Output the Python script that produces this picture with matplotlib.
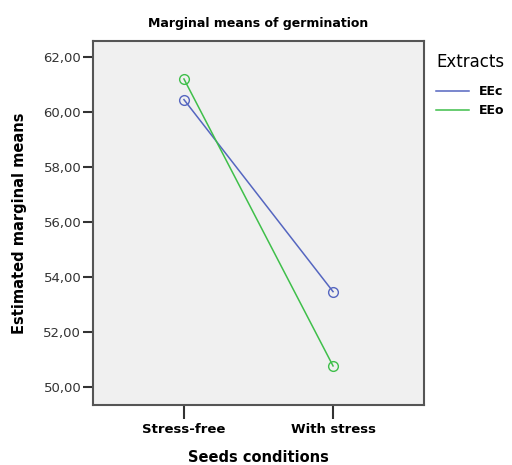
import matplotlib.pyplot as plt

conditions = ['Stress-free', 'With stress']
eec = [60.45, 53.47]
eeo = [61.2, 50.77]
yticks = [50, 52, 54, 56, 58, 60, 62]

fig = plt.figure(figsize=(5.12, 4.65), dpi=100)
ax = fig.add_axes([93/512, 60/465, 331/512, 364/465])
ax.set_facecolor('#f0f0f0')

x = range(len(conditions))
ax.plot(x, eec, color='#5566c0', lw=1.1, marker='o', ms=7, mfc='none', mec='#5566c0', label='EEc')
ax.plot(x, eeo, color='#3fbf4a', lw=1.1, marker='o', ms=7, mfc='none', mec='#3fbf4a', label='EEo')

ax.set_xlim(-0.61, 1.61)
ax.set_ylim(49.35, 62.58)
ax.set_xticks(list(x))
ax.set_xticklabels(conditions, fontsize=9.5, fontweight='bold')
ax.set_yticks(yticks)
ax.set_yticklabels([('%.2f' % v).replace('.', ',') for v in yticks], fontsize=9.5, color='#333333')
ax.tick_params(axis='y', length=7.5, width=1.5, color='#333333', pad=1)
ax.tick_params(axis='x', length=10, width=1.5, color='#333333', pad=3)
for s in ax.spines.values():
    s.set_color('#555555')
    s.set_linewidth(1.5)

ax.set_title('Marginal means of germination', fontsize=9, fontweight='bold', pad=10)
ax.set_xlabel('Seeds conditions', fontsize=10.5, fontweight='bold', labelpad=10)
ax.set_ylabel('Estimated marginal means', fontsize=10.5, fontweight='bold', labelpad=12)

leg = ax.legend(title='Extracts', loc='upper left', bbox_to_anchor=(1.01, 0.99),
                frameon=False, fontsize=9, handlelength=2.6, borderaxespad=0.3,
                labelspacing=0.45, alignment='left')
leg.get_title().set_fontsize(12)
leg._legend_box.sep = 10
for t in leg.get_texts():
    t.set_fontweight('bold')
for h in leg.legend_handles:
    h.set_marker('')

fig.savefig('out.png', dpi=100)
